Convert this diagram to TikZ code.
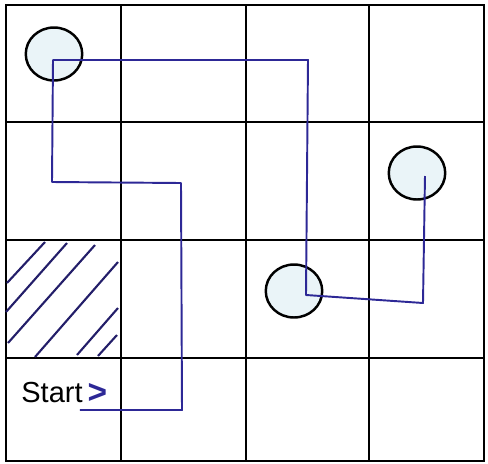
\documentclass[tikz,border=0pt]{standalone}
\usepackage{fontspec}
\setsansfont{Liberation Sans}
\usepackage{xcolor}
\usetikzlibrary{positioning,shapes.geometric}

\definecolor{routeblue}{RGB}{45,40,150}
\definecolor{hatchblue}{RGB}{35,30,105}
\definecolor{spotfill}{RGB}{234,244,248}

\tikzset{
	gridline/.style={line width=1.4pt,black},
	route/.style={line width=1.1pt,routeblue,line join=round},
	hatchline/.style={line width=1.2pt,hatchblue},
	spot/.style={ellipse,draw=black,line width=1.4pt,fill=spotfill,
		minimum width=1.13cm,minimum height=1.06cm,inner sep=0pt},
	starttext/.style={font=\sffamily\fontsize{16.5}{18}\selectfont,inner sep=0pt},
	chevron/.style={font=\sffamily\bfseries\fontsize{19}{20}\selectfont,routeblue,inner sep=0pt}
}

\begin{document}
\begin{tikzpicture}[x=0.02cm,y=-0.02cm]
		\useasboundingbox (0,0) rectangle (488,464);
		
		% 4x4 grid
		\draw[gridline] (6,5) rectangle (484,461);
		\foreach \gx in {121,246,369}
			\draw[gridline] (\gx,5) -- (\gx,461);
		\foreach \gy in {122,240,358}
			\draw[gridline] (6,\gy) -- (484,\gy);
		
		% blocked cell
		\draw[hatchline] (7,283) -- (45,242);
		\draw[hatchline] (6,312) -- (67,243);
		\draw[hatchline] (8,343) -- (95,245);
		\draw[hatchline] (35,357) -- (118,262);
		\draw[hatchline] (77,355) -- (118,308);
		\draw[hatchline] (98,356) -- (117,335);
		
		% spots to visit
		\node[spot] (spotA) at (54,54) {};
		\node[spot] (spotB) at (417,173) {};
		\node[spot] (spotC) at (294,291) {};
		
		% start label
		\node[starttext] (start) at (52,393) {Start};
		\node[chevron,right=2.5pt of start] (arrowhead) {>};
		
		% route
		\coordinate (r0) at (80,410);
		\coordinate (r1) at (182,410);
		\coordinate (r2) at (181,183);
		\coordinate (r3) at (52,182);
		\coordinate (r4) at (53,60);
		\coordinate (r5) at (308,60);
		\coordinate (r6) at (306,295);
		\coordinate (r7) at (423,303);
		\coordinate (r8) at (425,176);
		\draw[route] (r0) -- (r1) -- (r2) -- (r3) -- (r4) -- (r5) -- (r6) -- (r7) -- (r8);
		
	\end{tikzpicture}
\end{document}
